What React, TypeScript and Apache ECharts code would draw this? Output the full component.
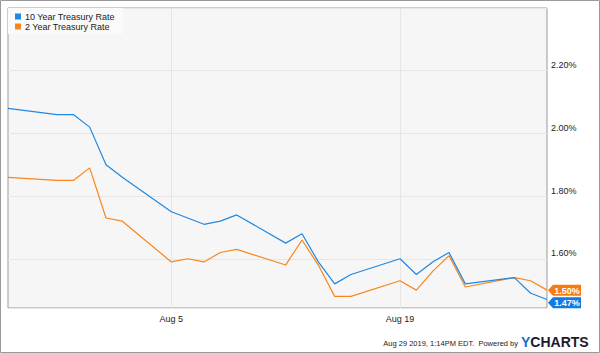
import React, { useEffect, useRef } from "react";
import * as echarts from "echarts";

const tradeDates = [
  "Jul 26", "Jul 29", "Jul 30", "Jul 31", "Aug 1", "Aug 2",
  "Aug 5", "Aug 6", "Aug 7", "Aug 8", "Aug 9",
  "Aug 12", "Aug 13", "Aug 14", "Aug 15", "Aug 16",
  "Aug 19", "Aug 20", "Aug 21", "Aug 22", "Aug 23",
  "Aug 26", "Aug 27", "Aug 28",
];
const tenYear = [
  2.08, 2.06, 2.06, 2.02, 1.9, 1.86,
  1.75, 1.73, 1.71, 1.72, 1.74,
  1.65, 1.68, 1.59, 1.52, 1.55,
  1.6, 1.55, 1.59, 1.62, 1.52,
  1.54, 1.49, 1.47,
];
const twoYear = [
  1.86, 1.85, 1.85, 1.89, 1.73, 1.72,
  1.59, 1.6, 1.59, 1.62, 1.63,
  1.58, 1.66, 1.58, 1.48, 1.48,
  1.53, 1.5, 1.56, 1.61, 1.51,
  1.54, 1.53, 1.5,
];
const xTickLabels = ["Aug 5", "Aug 19"];
const seriesNames = ["10 Year Treasury Rate", "2 Year Treasury Rate"];

const BLUE = "#1f88e3";
const ORANGE = "#f7861f";
const BLUE_TAG = "#1479e0";
const ORANGE_TAG = "#f77c10";
const FONT = "Arial, 'Liberation Sans', sans-serif";

// calendar days from Jul 26 to Aug 28, 2019 (axis categories)
function buildCalendar(): string[] {
  const months = ["Jan", "Feb", "Mar", "Apr", "May", "Jun", "Jul", "Aug", "Sep", "Oct", "Nov", "Dec"];
  const out: string[] = [];
  const d = new Date(2019, 6, 26);
  const end = new Date(2019, 7, 28);
  while (d.getTime() <= end.getTime()) {
    out.push(months[d.getMonth()] + " " + d.getDate());
    d.setDate(d.getDate() + 1);
  }
  return out;
}

const TAG_PATH = "path://M0,5.5L5,0L33,0L33,11L5,11Z";

export default function App() {
  const ref = useRef<HTMLDivElement>(null);
  useEffect(() => {
    if (!ref.current) return;
    const chart = echarts.init(ref.current, undefined, { renderer: "svg" });
    const categories = buildCalendar();
    const showTick = (_i: number, v: string) => xTickLabels.indexOf(v) >= 0;
    const last = tradeDates.length - 1;
    const fmt = (v: number) => v.toFixed(2) + "%";

    const makeTag = (value: number, color: string, dy: number) => ({
      symbol: TAG_PATH,
      symbolSize: [33, 11],
      symbolOffset: [17.5, dy],
      silent: true,
      data: [
        {
          coord: [tradeDates[last], value],
          itemStyle: { color },
          label: {
            show: true,
            position: "inside",
            offset: [2.5, 0.5],
            formatter: fmt(value),
            color: "#fff",
            fontSize: 9,
            fontWeight: "bold",
            fontFamily: FONT,
          },
        },
      ],
    });

    chart.setOption({
      animation: false,
      backgroundColor: "#fff",
      grid: {
        left: 8,
        right: 53,
        top: 8,
        bottom: 45,
        show: true,
        backgroundColor: "#f6f6f6",
        borderColor: "#999",
        borderWidth: 1,
      },
      legend: {
        left: 8,
        top: 8,
        orient: "vertical",
        icon: "rect",
        itemWidth: 6,
        itemHeight: 6,
        itemGap: 1,
        padding: [4, 8, 3, 7],
        backgroundColor: "#fafafa",
        textStyle: { fontSize: 9, color: "#222", fontFamily: FONT, padding: [0, 0, 0, -1] },
        data: seriesNames,
      },
      xAxis: {
        type: "category",
        data: categories,
        boundaryGap: false,
        axisLine: { show: false },
        axisTick: { show: false },
        axisLabel: {
          interval: showTick,
          color: "#222",
          fontSize: 9,
          fontFamily: FONT,
          margin: 6,
        },
        splitLine: { show: true, interval: showTick, lineStyle: { color: "#e6e6e6", width: 1 } },
      },
      yAxis: {
        type: "value",
        position: "right",
        min: 1.443,
        max: 2.4,
        splitNumber: 5,
        axisLine: { show: false },
        axisTick: { show: false },
        axisLabel: {
          formatter: fmt,
          showMinLabel: false,
          showMaxLabel: false,
          color: "#222",
          fontSize: 9,
          fontFamily: FONT,
          margin: 4,
          verticalAlign: "bottom",
          lineHeight: 11,
        },
        splitLine: { lineStyle: { color: "#e6e6e6", width: 1 } },
      },
      series: [
        {
          name: seriesNames[0],
          type: "line",
          data: tradeDates.map((d, i) => [d, tenYear[i]]),
          showSymbol: false,
          color: BLUE,
          lineStyle: { width: 1.2, color: BLUE },
          z: 3,
          markPoint: makeTag(tenYear[last], BLUE_TAG, 3.3),
        },
        {
          name: seriesNames[1],
          type: "line",
          data: tradeDates.map((d, i) => [d, twoYear[i]]),
          showSymbol: false,
          color: ORANGE,
          lineStyle: { width: 1.2, color: ORANGE },
          z: 2,
          markPoint: makeTag(twoYear[last], ORANGE_TAG, 0),
        },
      ],
      graphic: [
        {
          type: "rect",
          shape: { x: 0.5, y: 0.5, width: 599, height: 352 },
          style: { fill: "none", stroke: "#9a9a9a", lineWidth: 1 },
          silent: true,
          z: 100,
        },
        {
          type: "text",
          x: 518,
          y: 343.5,
          style: {
            text: "Aug 29 2019, 1:14PM EDT.  Powered by",
            fontSize: 7.5,
            fontFamily: FONT,
            fill: "#222",
            align: "right",
            verticalAlign: "middle",
          },
        },
        {
          type: "text",
          x: 521,
          y: 342,
          style: {
            text: "{y|Y}{c|CHARTS}",
            verticalAlign: "middle",
            align: "left",
            rich: {
              y: { fontSize: 14, fontWeight: "bold", fontFamily: FONT, fill: "#1372d6", color: "#1372d6" },
              c: { fontSize: 14, fontWeight: "bold", fontFamily: FONT, fill: "#1b1b2b", color: "#1b1b2b" },
            },
          },
        },
      ],
    });
    return () => chart.dispose();
  }, []);
  return (
    <div
      ref={ref}
      style={{ position: "fixed", left: 0, top: 0, width: 600, height: 353 }}
    />
  );
}
